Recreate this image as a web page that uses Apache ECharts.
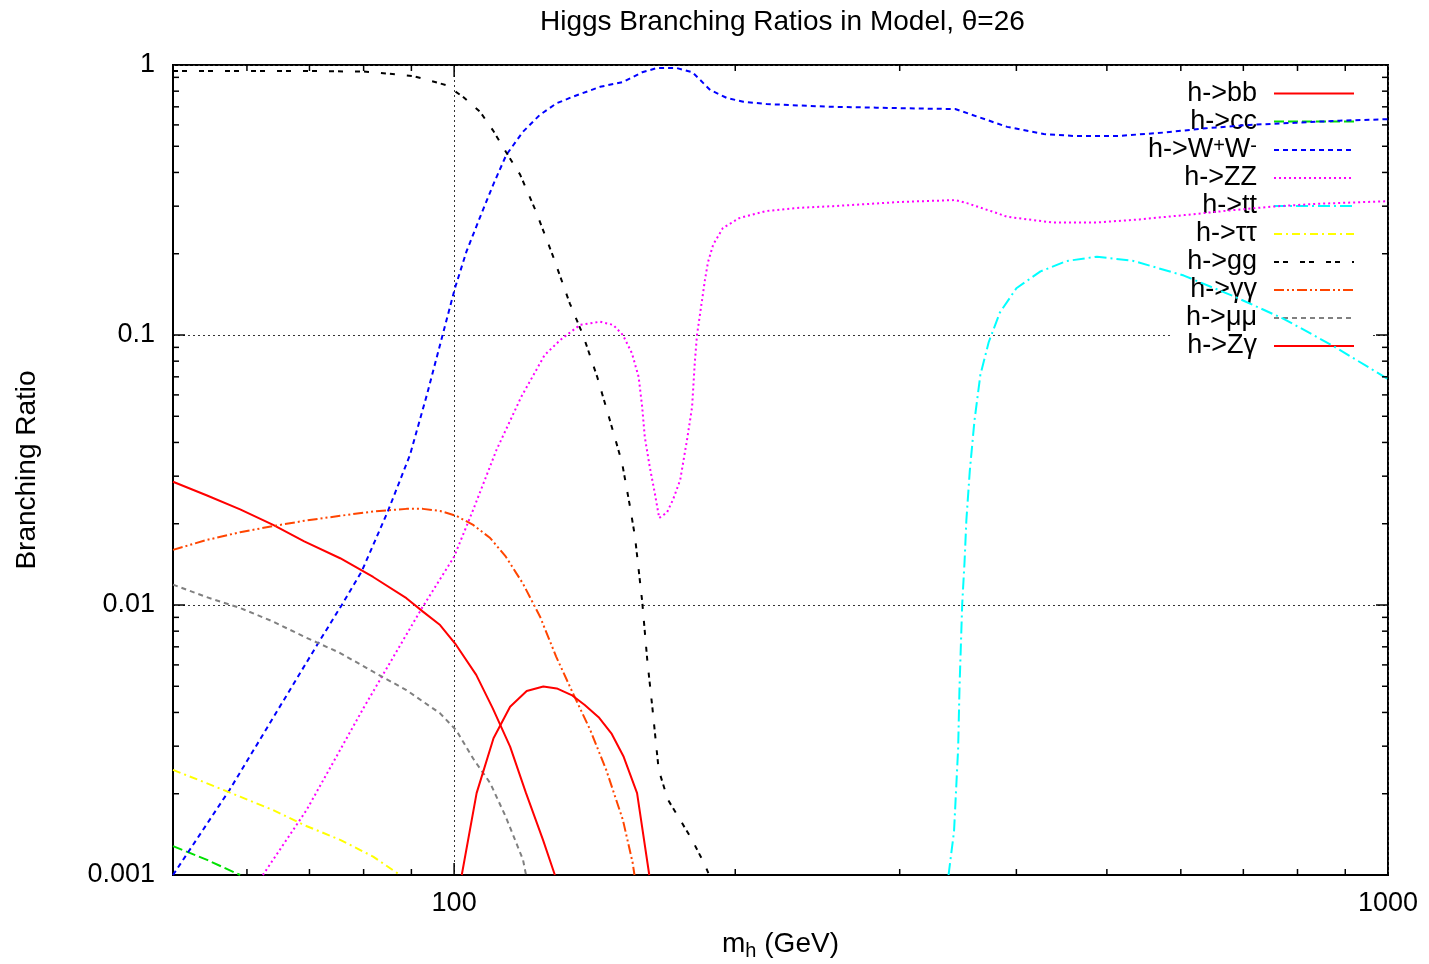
<!DOCTYPE html>
<html>
<head>
<meta charset="utf-8">
<title>Higgs Branching Ratios</title>
<script src="https://cdn.jsdelivr.net/npm/echarts@6/dist/echarts.min.js"></script>
<style>
  html, body { margin: 0; padding: 0; background: #fff; }
  #chart { width: 1429px; height: 964px; }
</style>
</head>
<body>
<div id="chart"></div>
<script>
// branching ratios, [m_h (GeV), BR]
var hbb = [[50, 0.0286], [54.3, 0.0255], [59, 0.0226], [64, 0.0198], [69.1, 0.0172], [75.5, 0.0149],
  [81.9, 0.0127], [88.9, 0.0106], [92.6, 0.00945], [96.6, 0.00843], [100.5, 0.00711], [105.6, 0.00551],
  [110, 0.00414], [114.8, 0.00299], [119.4, 0.00201], [124.5, 0.00135], [128.2, 0.001]];
var hcc = [[50, 0.00128], [54.3, 0.00114], [59, 0.001]];
var hww = [[50, 0.001], [57.5, 0.00207], [71.5, 0.00721], [75.8, 0.01], [79.6, 0.0133], [85, 0.0224],
  [89.7, 0.036], [93.5, 0.06], [97.2, 0.1], [100.2, 0.149], [103.1, 0.204], [106.5, 0.271], [110.1, 0.36], [113.7, 0.464],
  [118.5, 0.566], [123.5, 0.653], [128.7, 0.721], [134, 0.763], [143.3, 0.83], [151.6, 0.865], [159, 0.94],
  [165, 0.975], [173, 0.975], [180, 0.94], [188, 0.808], [195.9, 0.755], [204, 0.731], [216, 0.717],
  [228, 0.711], [254, 0.7], [283, 0.695], [315, 0.69], [344, 0.687], [359, 0.653], [391, 0.59], [428, 0.555],
  [461, 0.546], [514, 0.546], [575, 0.562], [638, 0.583], [711, 0.6], [795, 0.611], [887, 0.622], [1000, 0.63]];
var hzz = [[62.4, 0.001], [69.5, 0.00174], [80, 0.00416], [92.3, 0.0097], [100, 0.0151], [104.8, 0.0225],
  [111, 0.0375], [118, 0.059], [125, 0.0843], [130, 0.096], [136.4, 0.109], [143.3, 0.112], [148, 0.109], [151.6, 0.1],
  [155, 0.0857], [157.6, 0.07], [159, 0.054], [160, 0.042], [162, 0.0324], [164, 0.026], [165.8, 0.021],
  [169, 0.022], [171.5, 0.0245], [174.6, 0.029], [177.6, 0.041], [179.8, 0.054], [181, 0.0788], [182, 0.1],
  [184.3, 0.135], [185.6, 0.16], [187, 0.186], [189.4, 0.216], [194, 0.249], [202, 0.271], [216, 0.288],
  [234.7, 0.296], [254.5, 0.3], [300, 0.311], [344, 0.316], [354, 0.308], [381, 0.283], [391, 0.274],
  [437, 0.261], [487, 0.261], [542, 0.268], [605, 0.278], [675, 0.289], [752, 0.299], [837, 0.306], [1000, 0.313]];
var htt = [[338.4, 0.001], [343, 0.00145], [346.5, 0.00294], [347.7, 0.005], [350, 0.0101], [352, 0.0144],
  [353.6, 0.0206], [356.6, 0.0314], [360.7, 0.048], [366, 0.0711], [373.6, 0.094], [384, 0.121], [400, 0.149],
  [424.5, 0.172], [453, 0.188], [488, 0.195], [534, 0.188], [604.5, 0.166], [684, 0.139], [774, 0.1146],
  [874, 0.091], [1000, 0.0687]];
var htautau = [[50, 0.00245], [54.3, 0.00219], [59, 0.00195], [64, 0.00174], [69.1, 0.00153], [75.5, 0.00135],
  [81.9, 0.00117], [87.5, 0.001]];
var hgg = [[50, 0.95], [60, 0.95], [70, 0.95], [80.5, 0.945], [90.4, 0.91], [98, 0.843], [102.2, 0.763],
  [106.6, 0.671], [110, 0.574], [113.6, 0.477], [117.7, 0.392], [122.4, 0.286], [127.6, 0.196], [133, 0.131],
  [137.4, 0.1], [142.3, 0.07], [146.8, 0.0484], [151.3, 0.0336], [154.3, 0.0231], [156.2, 0.0179], [159, 0.0103],
  [161, 0.00625], [163, 0.0042], [165.6, 0.00245], [169.4, 0.0019], [174.6, 0.0016], [179.8, 0.00135],
  [185.6, 0.00109], [187.5, 0.001]];
var hgamgam = [[50, 0.016], [54.3, 0.0174], [59, 0.0186], [64, 0.0196], [69.1, 0.0205], [75.5, 0.0214],
  [81.9, 0.0222], [88.9, 0.0227], [92.6, 0.0227], [96.6, 0.0223], [100.5, 0.0214], [104.8, 0.0198],
  [109.3, 0.0177], [113.6, 0.0151], [118.5, 0.012], [123.6, 0.00905], [128.6, 0.00644], [134, 0.00472],
  [139.9, 0.00344], [145.5, 0.00245], [151.6, 0.0016], [155.3, 0.00111], [156, 0.001]];
var hmumu = [[50, 0.0119], [54.3, 0.0107], [59, 0.00975], [64, 0.00868], [69.1, 0.00763], [75.5, 0.00664],
  [81.9, 0.00566], [88.9, 0.00484], [96.6, 0.00397], [100.5, 0.00344], [104.8, 0.0027], [109.3, 0.00219],
  [113.6, 0.00164], [118.5, 0.00114], [119.4, 0.001]];
var hzgam = [[101.9, 0.001], [105.7, 0.00201], [110.2, 0.00321], [114.8, 0.0042], [119.6, 0.0048],
  [124.6, 0.00499], [128.8, 0.00491], [133.6, 0.00464], [138, 0.00426], [142.8, 0.00384], [147.5, 0.00333],
  [151.9, 0.00274], [157, 0.00201], [161.8, 0.001]];

var xMin = 50, xMax = 1000, yMin = 0.001, yMax = 1;
var xMajor = [100];
var xMinor = [60, 70, 80, 90, 200, 300, 400, 500, 600, 700, 800, 900];
var yMajor = [0.01, 0.1];
var yMinor = [0.002, 0.003, 0.004, 0.005, 0.006, 0.007, 0.008, 0.009,
  0.02, 0.03, 0.04, 0.05, 0.06, 0.07, 0.08, 0.09,
  0.2, 0.3, 0.4, 0.5, 0.6, 0.7, 0.8, 0.9];
var xLabels = { 100: '100', 1000: '1000' };
var yLabels = { '-3': '0.001', '-2': '0.01', '-1': '0.1', '0': '1' };

var FONT = '"Liberation Sans", Arial, sans-serif';
var chart = echarts.init(document.getElementById('chart'));

function curve(name, data, color, dash) {
  return {
    name: name, type: 'line', data: data, symbol: 'none', showSymbol: false, z: 3,
    lineStyle: { color: color, width: 2, type: dash },
    itemStyle: { color: color },
    emphasis: { disabled: true }
  };
}

function tickLine(x1, y1, x2, y2) {
  return { type: 'line', shape: { x1: x1, y1: y1, x2: x2, y2: y2 }, style: { stroke: '#000', lineWidth: 1.5 } };
}

// mirrored ticks on bottom/top
function xTicks(params, api) {
  var v = api.value(0), len = api.value(1);
  var b = api.coord([v, yMin]), t = api.coord([v, yMax]);
  return { type: 'group', children: [tickLine(b[0], b[1], b[0], b[1] - len), tickLine(t[0], t[1], t[0], t[1] + len)] };
}
// mirrored ticks on left/right
function yTicks(params, api) {
  var v = api.value(1), len = api.value(0);
  var l = api.coord([xMin, v]), r = api.coord([xMax, v]);
  return { type: 'group', children: [tickLine(l[0], l[1], l[0] + len, l[1]), tickLine(r[0], r[1], r[0] - len, r[1])] };
}

var legendNames = ['h->bb', 'h->cc', 'h->W+W-', 'h->ZZ', 'h->tt', 'h->ττ', 'h->gg', 'h->γγ', 'h->μμ', 'h->Zγ'];

option = {
  animation: false,
  backgroundColor: '#fff',
  title: {
    text: 'Higgs Branching Ratios in Model, θ=26',
    left: 540, top: 8, padding: 0,
    textStyle: { fontFamily: FONT, fontSize: 28, fontWeight: 'normal', color: '#000' }
  },
  grid: {
    left: 173, right: 41, top: 65, bottom: 89, outerBoundsMode: 'none',
    show: true, borderColor: '#000', borderWidth: 2
  },
  legend: {
    data: legendNames,
    orient: 'vertical', align: 'right',
    right: 74, top: 80, padding: 0, z: 2,
    itemWidth: 80, itemHeight: 14, itemGap: 1,
    selectedMode: false,
    itemStyle: { opacity: 0 },
    formatter: function (n) {
      if (n === 'h->W+W-') return '{a|h->W}{sup|+}{a|W}{sup|-}';
      return '{a|' + n + '}';
    },
    textStyle: {
      color: '#000', padding: [0, 12, 0, 0],
      rich: {
        a: { fontFamily: FONT, fontSize: 27, lineHeight: 28, color: '#000' },
        sup: { fontFamily: FONT, fontSize: 20, lineHeight: 18, verticalAlign: 'top', color: '#000' }
      }
    }
  },
  graphic: [{
    type: 'rect', z: 1, silent: true,
    shape: { x: 1172, y: 77, width: 200, height: 282 },
    style: { fill: '#fff' }
  }],
  xAxis: {
    type: 'log', logBase: 10, min: xMin, max: xMax,
    name: '{a|m}{s|h}{a| (GeV)}', nameLocation: 'middle', nameGap: 52,
    nameTextStyle: {
      rich: {
        a: { fontFamily: FONT, fontSize: 28, lineHeight: 34, color: '#000' },
        s: { fontFamily: FONT, fontSize: 20, lineHeight: 20, verticalAlign: 'bottom', color: '#000' }
      }
    },
    axisLine: { show: true, lineStyle: { color: '#000', width: 2 } },
    axisTick: { show: false },
    axisLabel: {
      margin: 15, color: '#000', fontFamily: FONT, fontSize: 27,
      formatter: function (v) { return xLabels[Math.round(v)] || ''; }
    },
    splitLine: { show: true, lineStyle: { color: '#333', width: 1, type: [2, 3] } }
  },
  yAxis: {
    type: 'log', logBase: 10, min: yMin, max: yMax,
    name: 'Branching Ratio', nameLocation: 'middle', nameGap: 132,
    nameTextStyle: { fontFamily: FONT, fontSize: 28, color: '#000' },
    axisLine: { show: true, lineStyle: { color: '#000', width: 2 } },
    axisTick: { show: false },
    axisLabel: {
      margin: 18, color: '#000', fontFamily: FONT, fontSize: 27,
      formatter: function (v) { return yLabels[String(Math.round(Math.log10(v)))] || ''; }
    },
    splitLine: { show: true, lineStyle: { color: '#333', width: 1, type: [2, 3] } }
  },
  series: [
    curve('h->bb', hbb, '#ff0000', 'solid'),
    curve('h->cc', hcc, '#00e000', [10, 4]),
    curve('h->W+W-', hww, '#0000ff', [5, 4]),
    curve('h->ZZ', hzz, '#ff00ff', [2, 3]),
    curve('h->tt', htt, '#00ffff', [12, 4, 2, 4]),
    curve('h->ττ', htautau, '#ffff00', [8, 4, 2, 4]),
    curve('h->gg', hgg, '#000000', [5, 4, 5, 12]),
    curve('h->γγ', hgamgam, '#ff4500', [10, 3, 2, 3, 2, 3]),
    curve('h->μμ', hmumu, '#808080', [5, 4]),
    curve('h->Zγ', hzgam, '#ff0000', 'solid'),
    {
      type: 'custom', silent: true, z: 4, clip: false, renderItem: xTicks,
      data: xMajor.map(function (v) { return [v, 12]; }).concat(xMinor.map(function (v) { return [v, 6]; }))
    },
    {
      type: 'custom', silent: true, z: 4, clip: false, renderItem: yTicks,
      data: yMajor.map(function (v) { return [12, v]; }).concat(yMinor.map(function (v) { return [6, v]; }))
    }
  ]
};
chart.setOption(option);
</script>
</body>
</html>
